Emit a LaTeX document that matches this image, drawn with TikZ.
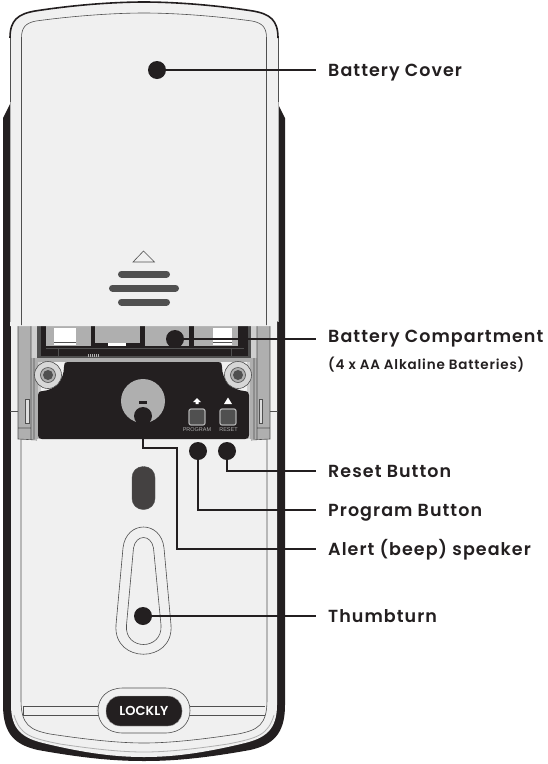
\documentclass[tikz,border=0pt]{standalone}
\usepackage{fontspec}
\setmainfont{Poppins}[BoldFont={Poppins SemiBold}]
\newfontfamily\smallsans{Liberation Sans}
\usetikzlibrary{calc}
\definecolor{lockdark}{RGB}{35,31,32}
\definecolor{lockplate}{RGB}{240,240,240}
\definecolor{lockgray}{RGB}{175,175,175}
\definecolor{lockline}{RGB}{80,80,80}
\tikzset{
  calloutdot/.style={circle,fill=lockdark,minimum size=18pt,inner sep=0pt},
  calloutline/.style={line width=1.5pt,lockdark},
  calloutlabel/.style={anchor=west,inner xsep=12pt,inner ysep=0pt,text height=12pt,text depth=0pt,
    font=\fontsize{17.5}{18}\selectfont\bfseries\addfontfeatures{LetterSpace=6},text=lockdark},
  pushbutton/.style={draw=lockgray,line width=1.2pt,fill=lockline,rounded corners=2pt,minimum size=16pt,inner sep=0pt},
  tinylabel/.style={inner sep=0pt,font=\smallsans\fontsize{5.5}{6}\selectfont,text=lockgray},
  gripbar/.style={line width=7pt,line cap=round,lockline},
  thinline/.style={line width=.6pt,lockline}
}
\begin{document}
\begin{tikzpicture}[x=1pt,y=-1pt]
  \useasboundingbox (0,0) rectangle (547,764);
  % housing behind the cover
  \fill[lockdark] (3,118) -- (11,102) -- (277,102) -- (285,118) -- (285,705)
    .. controls (285,735) and (272,745) .. (250,750)
    .. controls (200,759) and (170,761) .. (144,761)
    .. controls (118,761) and (88,759) .. (38,750)
    .. controls (16,745) and (3,735) .. (3,705) -- cycle;
  % lower plate
  \fill[lockplate] (11,320) -- (277,320) -- (277,705)
    .. controls (277,730) and (265,738) .. (245,743)
    .. controls (200,754) and (170,757) .. (144,757)
    .. controls (118,757) and (88,754) .. (43,743)
    .. controls (23,738) and (11,730) .. (11,705) -- cycle;
  \draw[lockgray,line width=.8pt] (14,715) .. controls (20,735) and (30,738) .. (60,744)
    .. controls (100,750) and (125,752) .. (144,752)
    .. controls (163,752) and (188,750) .. (228,744)
    .. controls (258,738) and (268,735) .. (274,715);
  \draw[thinline] (21,410) -- (21,700)
    .. controls (21,725) and (30,730) .. (50,734)
    .. controls (90,740) and (120,743) .. (144,743)
    .. controls (168,743) and (198,740) .. (238,734)
    .. controls (258,730) and (267,725) .. (267,700) -- (267,410);
  \draw[thinline] (10,411) -- (278,411);
  % compartment frame and side rails
  \fill[lockgray] (18,325) rectangle (31,439);
  \fill[lockgray] (257,325) rectangle (270,439);
  \fill[lockgray!60!white] (31,325) rectangle (41,439);
  \fill[lockgray!60!white] (247,325) rectangle (257,439);
  \fill[lockgray] (31,358) rectangle (257,362);
  \fill[lockgray] (31,362) rectangle (38,439);
  \fill[lockgray] (250,362) rectangle (257,439);
  \draw[thinline] (31,325) -- (31,439) (257,325) -- (257,439) (18,325) -- (18,439) -- (37,440)
    (270,325) -- (270,439) -- (251,440) (34,358) -- (34,439) (254,358) -- (254,439)
    (18,428) -- (31,428) (270,428) -- (257,428);
  \draw[thinline,fill=lockplate!70!lockgray] (25.5,399) rectangle (29,423);
  \draw[thinline,fill=lockplate!70!lockgray] (259,399) rectangle (262.5,423);
  \fill[lockline] (37,325) rectangle (251,358);
  \fill[lockdark] (41,325) rectangle (248,356);
  % batteries
  \fill[lockgray] (46,325) rectangle (91,346);
  \fill[white] (54,328) rectangle (76,345);
  \draw[thinline] (54,342) -- (76,342);
  \fill[lockgray] (95,325) rectangle (140,343);
  \fill[white] (108,343) rectangle (126,346);
  \fill[lockgray] (145,325) rectangle (189,346);
  \fill[lockgray] (194,325) rectangle (238,346);
  \fill[white] (213,328) rectangle (232,345);
  \draw[thinline] (213,342) -- (232,342);
  \draw[lockline,line width=.5pt] (58,348) -- (58,356) (231,348) -- (231,356) (46,348) -- (244,348);
  \foreach \tx in {88,90,...,98} {
    \draw[lockgray,line width=.5pt] (\tx,354) -- (\tx,357);
  }
  % black plate with screw recesses
  \fill[lockdark] (68,362) -- (218,362) .. controls (222,362) and (222,365) .. (222,367)
    .. controls (222,380) and (232,390) .. (244,391) .. controls (248,391) and (249,393) .. (249,395)
    -- (249,435) .. controls (249,438) and (248,439) .. (245,439) -- (42,439)
    .. controls (39,439) and (38,438) .. (38,435) -- (38,395)
    .. controls (38,393) and (39,391) .. (43,391) .. controls (55,390) and (64,380) .. (64,367)
    .. controls (64,365) and (64,362) .. (68,362) -- cycle;
  \foreach \sx in {48,238} {
    \draw[lockline,line width=.6pt,fill=lockgray!50!white] (\sx,375) circle (13.5pt);
    \draw[lockline,line width=.6pt,fill=lockgray] (\sx,375) circle (7.5pt);
    \fill[lockline] (\sx,375) circle (5pt);
  }
  \fill[lockgray] (143,401) circle (22pt);
  \fill[lockdark] (139,401) rectangle (147,403.5);
  \node[pushbutton] (programbtn) at (197,417) {};
  \node[pushbutton] (resetbtn) at (228,417) {};
  \node[tinylabel,below=1pt] (programtxt) at (197,426) {PROGRAM};
  \node[tinylabel,below=1pt] (resettxt) at (228.5,426) {RESET};
  \fill[white] (197,398) -- (201,402) -- (198.5,402) -- (198.5,404) -- (195.5,404) -- (195.5,402) -- (193,402) -- cycle;
  \fill[white] (228,397.5) -- (232,404) -- (224,404) -- cycle;
  % cover
  \fill[lockplate] (10,326) -- (10,38)
    .. controls (10,20) and (18,14) .. (35,11)
    .. controls (80,4) and (120,2) .. (144,2)
    .. controls (168,2) and (208,4) .. (253,11)
    .. controls (270,14) and (278,20) .. (278,38) -- (278,321) -- (272,326) -- (16,326) -- cycle;
  \draw[lockdark,line width=1.6pt] (10,38)
    .. controls (10,20) and (18,14) .. (35,11)
    .. controls (80,4) and (120,2) .. (144,2)
    .. controls (168,2) and (208,4) .. (253,11)
    .. controls (270,14) and (278,20) .. (278,38);
  \draw[lockline,line width=.8pt] (10,38) -- (10,102) (278,38) -- (278,102);
  \draw[lockgray,line width=.7pt] (10,102) -- (10,322) (278,102) -- (278,322);
  \draw[thinline] (21.5,325) -- (21.5,38)
    .. controls (21.5,27) and (26,23) .. (36,21)
    .. controls (80,15) and (120,13) .. (144,13)
    .. controls (168,13) and (208,15) .. (252,21)
    .. controls (262,23) and (266.5,27) .. (266.5,38) -- (266.5,325);
  % latch mark on the cover
  \draw[thinline] (133,262) -- (143.5,251) -- (154.5,262) -- cycle;
  \draw[gripbar] (121.5,274) -- (166.5,274);
  \draw[gripbar] (112.5,288) -- (175.5,288);
  \draw[gripbar] (121.5,302) -- (166.5,302);
  % slot and thumbturn outline
  \node[draw=lockline,fill=lockdark!85!white,rounded corners=11pt,minimum width=23pt,minimum height=43pt,inner sep=0pt] (slot) at (143.5,488) {};
  \draw[thinline] (123,548) .. controls (126,520) and (161,520) .. (164,548)
    -- (171,625) .. controls (174,664) and (113,664) .. (116,625) -- cycle;
  \draw[thinline] (133.5,548) .. controls (136,534) and (151,534) .. (153.5,548)
    -- (161,625) .. controls (163,651) and (124,651) .. (126.5,625) -- cycle;
  % logo
  \draw[thinline,fill=lockplate] (123,688) -- (165,688) .. controls (181,688) and (190,698) .. (190,710.5)
    .. controls (190,723) and (181,733) .. (165,733) -- (123,733)
    .. controls (107,733) and (98,723) .. (98,710.5)
    .. controls (98,698) and (107,688) .. (123,688) -- cycle;
  \draw[thinline,line width=.9pt] (23,706.5) -- (98,706.5) (23,715) -- (98,715) (23,706.5) -- (23,715)
    (190,706.5) -- (265,706.5) (190,715) -- (265,715);
  \node[draw=lockgray,fill=lockdark,rounded corners=14pt,minimum width=76pt,minimum height=30pt,inner sep=0pt,
    text=white,font=\fontsize{13}{14}\selectfont\bfseries] (logo) at (144,711) {LOCKLY};
  % call-outs
  \node[calloutdot] (coverdot) at (157,70) {};
  \node[calloutdot] (compartmentdot) at (175,339) {};
  \node[calloutdot] (speakerdot) at (143,416) {};
  \node[calloutdot] (programdot) at (198,451) {};
  \node[calloutdot] (resetdot) at (227,451) {};
  \node[calloutdot] (thumbdot) at (143,616) {};
  \node[calloutlabel] (coverlbl) at (316,70) {Battery Cover};
  \node[calloutlabel] (compartmentlbl) at (316,336) {Battery Compartment};
  \node[anchor=west,inner sep=0pt,text=lockdark,font=\fontsize{13.5}{14}\selectfont\bfseries\addfontfeatures{LetterSpace=6}] (aalbl) at (328,365) {(4 x AA Alkaline Batteries)};
  \node[calloutlabel] (resetlbl) at (316,471) {Reset Button};
  \node[calloutlabel] (programlbl) at (316,510) {Program Button};
  \node[calloutlabel] (alertlbl) at (316,549) {Alert (beep) speaker};
  \node[calloutlabel] (thumblbl) at (316,616) {Thumbturn};
  \coordinate (compartmentend) at (316,339);
  \coordinate (alertbend) at (177,448);
  \draw[calloutline] (coverdot) -- (coverlbl.west);
  \draw[calloutline] (compartmentdot) -- (compartmentend);
  \draw[calloutline] (resetdot.south) |- (resetlbl.west);
  \draw[calloutline] (programdot.south) |- (programlbl.west);
  \draw[calloutline] (speakerdot.south) |- (alertbend) |- (alertlbl.west);
  \draw[calloutline] (thumbdot) -- (thumblbl.west);
\end{tikzpicture}
\end{document}
